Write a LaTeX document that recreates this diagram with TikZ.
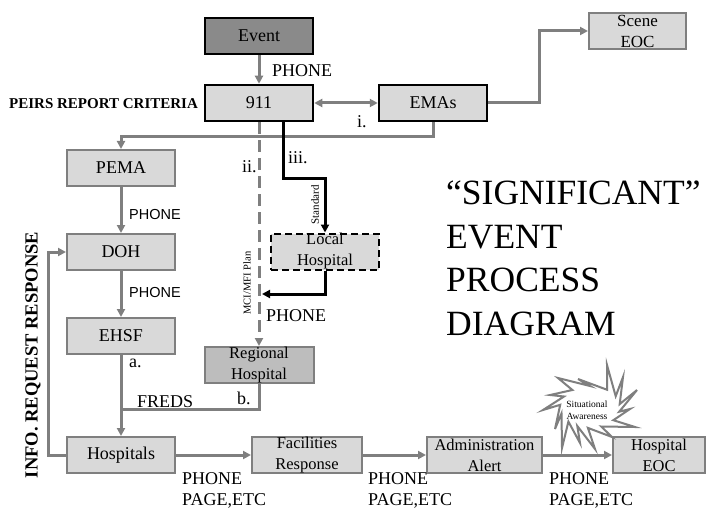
\documentclass[tikz,border=0pt]{standalone}
\usepackage{fontspec}
\setmainfont{Liberation Serif}
\newfontfamily\sansf{Liberation Sans}
\usetikzlibrary{arrows.meta,calc}
\definecolor{lg}{HTML}{D9D9D9}
\definecolor{mg}{HTML}{BDBDBD}
\definecolor{dg}{HTML}{8A8A8A}
\definecolor{ln}{HTML}{7F7F7F}
\begin{document}
\begin{tikzpicture}[x=1pt,y=-1pt,
 box/.style={draw=ln, line width=2pt, fill=lg, minimum width=108pt, minimum height=36pt, inner sep=0pt, font=\fontsize{18}{20}\selectfont, align=center},
 box2/.style={box, font=\fontsize{16.5}{21}\selectfont},
 bbox/.style={box, draw=black, line width=2.5pt},
 tip/.style={-{Triangle[length=8pt,width=8pt]}},
 garr/.style={draw=ln, line width=3pt, tip},
 gline/.style={draw=ln, line width=3pt},
 blk/.style={draw=black, line width=3pt, tip},
 lab/.style={font=\fontsize{18}{21}\selectfont, inner sep=0pt, anchor=base west},
 slab/.style={font=\sansf\fontsize{14.5}{17}\selectfont, inner sep=0pt, anchor=base west},
 pp/.style={font=\fontsize{18}{21}\selectfont, inner sep=0pt, anchor=north west, align=left}
]
\useasboundingbox (0,0) rectangle (706,513);

% nodes
\node[bbox, fill=dg] (ev) at (259,36) {Event};
\node[bbox] (n911) at (259,103) {911};
\node[bbox] (emas) at (433,103) {EMAs};
\node[box2, minimum width=97pt, font=\fontsize{17}{21}\selectfont] (scene) at (637.5,31) {Scene\\EOC};
\node[box] (pema) at (121,168) {PEMA};
\node[box] (doh) at (121,252) {DOH};
\node[box] (ehsf) at (121,336) {EHSF};
\node[box2, fill=mg, minimum width=109pt] (reg) at (259,365) {Regional\\Hospital};
\node[box2, draw=black, dashed, line width=2pt, dash pattern=on 7pt off 4pt] (local) at (325,251.5) {Local\\Hospital};
\node[box] (hosp) at (121,455) {Hospitals};
\node[box2, minimum width=110pt] (fac) at (307,455) {Facilities\\Response};
\node[box2, minimum width=115pt] (adm) at (484.5,455) {Administration\\Alert};
\node[box2, minimum width=92pt] (heoc) at (659,455) {Hospital\\EOC};

\coordinate (mj) at (262,294);
\coordinate (fj) at (121,409);

% connectors
\draw[garr] (ev) -- (n911);
\draw[gline, {Triangle[length=8pt,width=8pt]}-{Triangle[length=8pt,width=8pt]}] (n911) -- (emas);
\draw[garr] (emas.east) -- ++(51,0) |- (scene.west);
\draw[garr] (emas.south) -- ++(0,14) -| (pema.north);
\draw[garr, dash pattern=on 12pt off 6pt] (n911.south) -- (reg.north);
\draw[blk] (n911.south) ++(24,0) -- ++(0,56.5) -| (local.north);
\draw[blk] (local.south) |- (mj);
\draw[garr] (pema) -- (doh);
\draw[garr] (doh) -- (ehsf);
\draw[garr] (ehsf) -- (hosp);
\draw[gline] (reg.south) |- (fj);
\draw[garr] (hosp.west) -- ++(-18,0) |- (doh.west);
\draw[garr] (hosp) -- (fac);
\draw[garr] (fac) -- (adm);
\draw[garr] (adm) -- (heoc);

% starburst
\coordinate (sb) at (590,407);
\draw[draw=ln, line width=2pt, fill=white, line join=miter]
 ($(sb)+(17,-42)$) -- ($(sb)+(25.7,-10.8)$) -- ($(sb)+(33,-30)$) -- ($(sb)+(29.7,-2.9)$)
 -- ($(sb)+(47,-17)$) -- ($(sb)+(29.2,4.7)$) -- ($(sb)+(40,2)$) -- ($(sb)+(23.3,13.2)$)
 -- ($(sb)+(45,20)$) -- ($(sb)+(11.2,19.5)$) -- ($(sb)+(22,30)$) -- ($(sb)+(-2.1,20.9)$)
 -- ($(sb)+(5,42)$) -- ($(sb)+(-12.7,19.0)$) -- ($(sb)+(-10,36)$) -- ($(sb)+(-21.6,14.6)$)
 -- ($(sb)+(-28,41)$) -- ($(sb)+(-28.5,6.5)$) -- ($(sb)+(-35,22)$) -- ($(sb)+(-29.8,-2.2)$)
 -- ($(sb)+(-47,3)$) -- ($(sb)+(-26,-10.5)$) -- ($(sb)+(-40,-12)$) -- ($(sb)+(-17.6,-17)$)
 -- ($(sb)+(-32,-29)$) -- ($(sb)+(0,-21)$) -- ($(sb)+(-12,-28)$) -- ($(sb)+(17.2,-17.2)$) -- cycle;
\node[font=\fontsize{9.5}{12}\selectfont, align=center, inner sep=0pt] (sa) at (587,410) {Situational\\Awareness};

% labels
\node[lab] (lphone) at (272,76.5) {PHONE};
\node[lab, font=\bfseries\fontsize{15}{18}\selectfont] (peirs) at (9,109) {PEIRS REPORT CRITERIA};
\node[lab] (li) at (357,128) {i.};
\node[lab] (lii) at (242,173) {ii.};
\node[lab] (liii) at (288,164) {iii.};
\node[slab] (sp1) at (129,219) {PHONE};
\node[slab] (sp2) at (129,297) {PHONE};
\node[font=\fontsize{11}{13}\selectfont, inner sep=0pt, rotate=90] (std) at (315,205) {Standard};
\node[font=\fontsize{10.5}{13}\selectfont, inner sep=0pt, rotate=90] (mci) at (247,283) {MCI/MFI Plan};
\node[lab] (lphone2) at (266,321) {PHONE};
\node[lab] (la) at (129,367) {a.};
\node[lab] (lfreds) at (137,407) {FREDS};
\node[lab] (lb) at (237,404) {b.};
\node[pp] (pp1) at (182,472) {PHONE\\PAGE,ETC};
\node[pp] (pp2) at (368,472) {PHONE\\PAGE,ETC};
\node[pp] (pp3) at (549,472) {PHONE\\PAGE,ETC};
\node[font=\bfseries\fontsize{18.5}{20}\selectfont, inner sep=0pt, rotate=90] (info) at (33,355) {INFO. REQUEST RESPONSE};
\node[font=\fontsize{35.5}{43.5}\selectfont, inner sep=0pt, anchor=north west, align=left] (title) at (446,181) {“SIGNIFICANT”\\EVENT\\PROCESS\\DIAGRAM};
\end{tikzpicture}
\end{document}
